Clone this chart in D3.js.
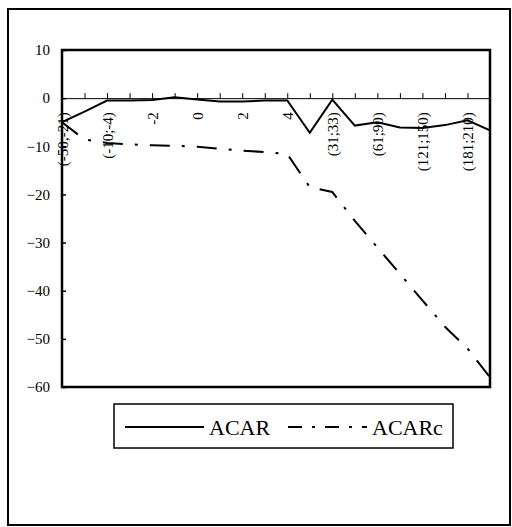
<!DOCTYPE html>
<html>
<head>
<meta charset="utf-8">
<title>ACAR and ACARc</title>
<script src="https://cdn.jsdelivr.net/npm/d3@7"></script>
<style>
  body { margin: 0; background: #fff; }
  svg text { font-family: "Liberation Serif", "Times New Roman", serif; fill: #000; }
</style>
</head>
<body>
<div id="chart"></div>
<script>
// event windows on the category axis (every other one is labelled)
var categories = ['(-50;-21)', '(-20;-11)', '(-10;-4)', '-3', '-2', '-1', '0', '1', '2', '3',
                  '4', '5', '(31;33)', '(34;60)', '(61;90)', '(91;120)', '(121;150)', '(151;180)',
                  '(181;210)', '(211;240)'];
var acar = [-5, -2.8, -0.5, -0.5, -0.4, 0.2, -0.3, -0.7, -0.7, -0.5,
            -0.5, -7.2, -0.3, -5.7, -5, -6.1, -6.2, -5.6, -4.6, -6.7];
var acarc = [-5, -8.6, -9.3, -9.6, -9.8, -9.9, -10.1, -10.5, -10.9, -11.2,
             -11.6, -18.5, -19.5, -25.5, -31, -36.5, -42, -47.5, -52, -58];
var yTicks = [10, 0, -10, -20, -30, -40, -50, -60];
var seriesNames = ['ACAR', 'ACARc'];

var width = 512, height = 527;
var plot = { left: 62, top: 50, right: 490, bottom: 387 };

var svg = d3.select('#chart').append('svg')
  .attr('width', width)
  .attr('height', height);

// outer frame
svg.append('rect')
  .attr('x', 8).attr('y', 9)
  .attr('width', 502).attr('height', 516)
  .attr('fill', 'none').attr('stroke', '#000').attr('stroke-width', 2);

var x = d3.scalePoint().domain(categories).range([plot.left, plot.right]);
var y = d3.scaleLinear().domain([-60, 10]).range([plot.bottom, plot.top]);

// y axis
var yAxis = svg.append('g')
  .attr('transform', 'translate(' + plot.left + ',0)')
  .call(d3.axisRight(y).tickValues(yTicks).tickSize(4).tickFormat(d3.format('d')));
yAxis.select('.domain').remove();
yAxis.selectAll('line').attr('stroke', '#000').attr('stroke-width', 1.5);
yAxis.selectAll('text')
  .attr('x', -12)
  .attr('text-anchor', 'end')
  .style('font-size', '15px');

// x axis along zero
var xAxis = svg.append('g')
  .attr('transform', 'translate(0,' + y(0) + ')')
  .call(d3.axisBottom(x).tickSize(-5).tickFormat(function(d, i) { return i % 2 ? '' : d; }));
xAxis.select('.domain').attr('stroke', '#000').attr('stroke-width', 1);
xAxis.selectAll('line').attr('stroke', '#000').attr('stroke-width', 1);
xAxis.selectAll('text')
  .attr('y', 0)
  .attr('dy', '0.35em')
  .attr('text-anchor', 'end')
  .attr('transform', 'translate(0,14) rotate(-90)')
  .style('font-size', '15px');

// plot border
svg.append('rect')
  .attr('x', plot.left).attr('y', plot.top)
  .attr('width', plot.right - plot.left).attr('height', plot.bottom - plot.top)
  .attr('fill', 'none').attr('stroke', '#000').attr('stroke-width', 2.5);

var line = d3.line()
  .x(function(d, i) { return x(categories[i]); })
  .y(function(d) { return y(d); });

svg.append('path')
  .datum(acar)
  .attr('d', line)
  .attr('fill', 'none').attr('stroke', '#000').attr('stroke-width', 2);

svg.append('path')
  .datum(acarc)
  .attr('d', line)
  .attr('fill', 'none').attr('stroke', '#000').attr('stroke-width', 2)
  .attr('stroke-dasharray', '20,12,3,12');

// legend
var legend = svg.append('g');
legend.append('rect')
  .attr('x', 114).attr('y', 404)
  .attr('width', 339).attr('height', 44)
  .attr('fill', 'none').attr('stroke', '#000').attr('stroke-width', 1.5);
legend.append('line')
  .attr('x1', 125).attr('x2', 204).attr('y1', 427).attr('y2', 427)
  .attr('stroke', '#000').attr('stroke-width', 2);
legend.append('text')
  .attr('x', 209).attr('y', 435)
  .style('font-size', '22px')
  .text(seriesNames[0]);
legend.append('line')
  .attr('x1', 288).attr('x2', 367).attr('y1', 427).attr('y2', 427)
  .attr('stroke', '#000').attr('stroke-width', 2)
  .attr('stroke-dasharray', '14,10,3,10');
legend.append('text')
  .attr('x', 372).attr('y', 435)
  .style('font-size', '22px')
  .text(seriesNames[1]);
</script>
</body>
</html>
